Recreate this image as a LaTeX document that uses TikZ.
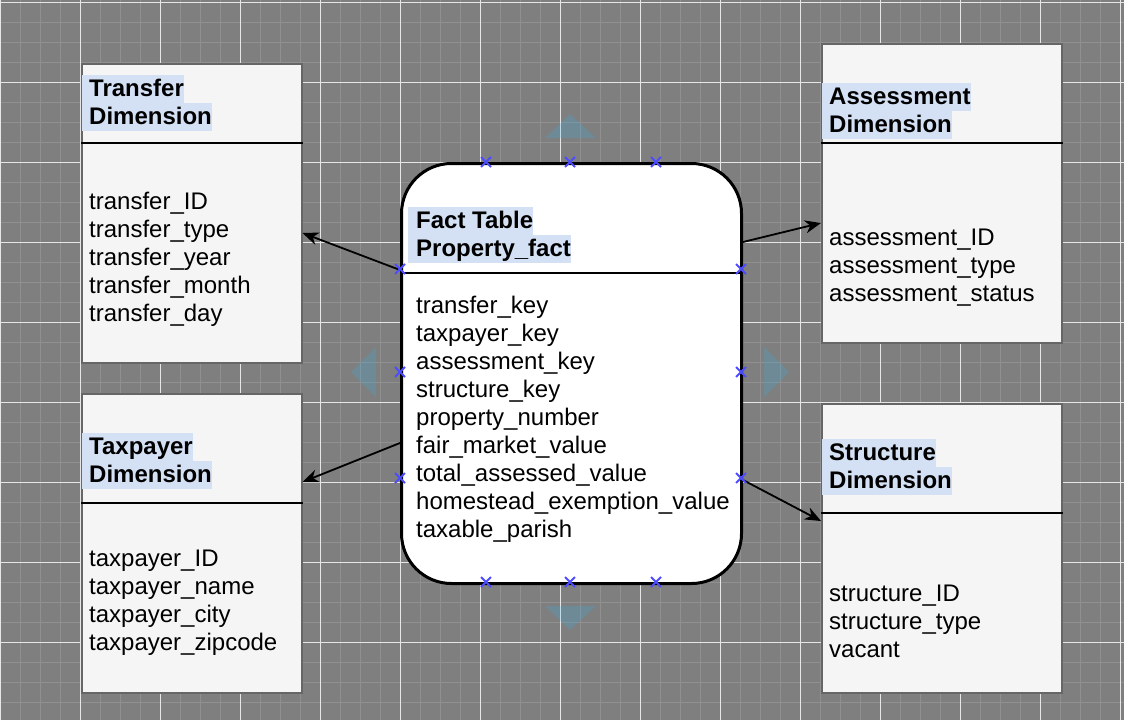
\documentclass[tikz,border=0pt]{standalone}
\usepackage{fontspec}
\setmainfont{Liberation Sans}
\usetikzlibrary{arrows.meta,calc}
\definecolor{bg}{HTML}{7F7F7F}
\definecolor{minorc}{HTML}{909090}
\definecolor{majorc}{HTML}{E6E6E6}
\definecolor{boxfill}{HTML}{F5F5F5}
\definecolor{boxline}{HTML}{666666}
\definecolor{hlc}{HTML}{D4E1F5}
\definecolor{handle}{HTML}{4D4DFF}
\definecolor{hint}{HTML}{29B6F2}
\begin{document}
\begin{tikzpicture}[x=1pt,y=-1pt,
  dimbox/.style={draw=boxline, line width=1.5pt, fill=boxfill, anchor=north west, inner sep=0pt, minimum width=220pt},
  sepline/.style={line width=2pt, black},
  hdr/.style={fill=hlc, inner sep=0pt, text height=21pt, text depth=7pt, anchor=base west, font=\fontsize{24}{28}\selectfont\bfseries},
  body/.style={inner sep=0pt, anchor=base west, font=\fontsize{24}{28}\selectfont},
  conn/.style={line width=1.8pt, -{Stealth[length=16pt,width=13pt,inset=5pt]}},
  handlemark/.style={handle, line width=2pt},
  hintarrow/.style={fill=hint, fill opacity=0.2, draw=none}]
\useasboundingbox (0,0) rectangle (1124,720);
% background grid
\fill[bg] (0,0) rectangle (1124,720);
\foreach \x in {0,20,...,1120} \draw[minorc, line width=1pt] (\x,0) -- (\x,720);
\foreach \y in {2,22,...,702} \draw[minorc, line width=1pt] (0,\y) -- (1124,\y);
\foreach \x in {0,80,...,1120} \draw[majorc, line width=1pt] (\x,0) -- (\x,720);
\foreach \y in {2,82,...,642} \draw[majorc, line width=1pt] (0,\y) -- (1124,\y);
% hover hint arrows
\fill[hintarrow] (545,138) -- (570,114) -- (596,138) -- cycle;
\fill[hintarrow] (545,606) -- (570,630) -- (596,606) -- cycle;
\fill[hintarrow] (376,347) -- (351,372) -- (376,397) -- cycle;
\fill[hintarrow] (764,347) -- (789,372) -- (764,397) -- cycle;
% dimension tables
\node[dimbox, minimum height=299pt] (transfer) at (81,63) {};
\draw[sepline] ($(transfer.north west)+(0,80)$) -- ($(transfer.north east)+(0,80)$);
\node[dimbox, minimum height=299pt] (taxpayer) at (81,393) {};
\draw[sepline] ($(taxpayer.north west)+(0,110)$) -- ($(taxpayer.north east)+(0,110)$);
\node[dimbox, minimum width=240pt, minimum height=299pt] (assessment) at (821,43) {};
\draw[sepline] ($(assessment.north west)+(0,100)$) -- ($(assessment.north east)+(0,100)$);
\node[dimbox, minimum width=240pt, minimum height=289pt] (structure) at (821,403) {};
\draw[sepline] ($(structure.north west)+(0,110)$) -- ($(structure.north east)+(0,110)$);
% fact table
\node[draw, line width=3pt, fill=white, rounded corners=50pt, minimum width=340pt, minimum height=420pt, anchor=north west, inner sep=0pt] (fact) at (400,162) {};
\draw[sepline] ($(fact.north west)+(0,111)$) -- ($(fact.north east)+(0,111)$);
% headers
\node[hdr] (transferH1) at (82,96) {\hspace{7pt}Transfer\hspace{2pt}};
\node[hdr] (transferH2) at (82,124) {\hspace{7pt}Dimension\hspace{2pt}};
\node[hdr] (taxpayerH1) at (82,454) {\hspace{7pt}Taxpayer\hspace{2pt}};
\node[hdr] (taxpayerH2) at (82,482) {\hspace{7pt}Dimension\hspace{2pt}};
\node[hdr] (assessmentH1) at (822,104) {\hspace{7pt}Assessment\hspace{2pt}};
\node[hdr] (assessmentH2) at (822,132) {\hspace{7pt}Dimension\hspace{2pt}};
\node[hdr] (structureH1) at (822,460) {\hspace{7pt}Structure\hspace{2pt}};
\node[hdr] (structureH2) at (822,488) {\hspace{7pt}Dimension\hspace{2pt}};
\node[hdr] (factH1) at (408,228) {\hspace{8pt}Fact Table\hspace{8pt}};
\node[hdr] (factH2) at (408,256) {\hspace{8pt}Property\_fact\hspace{1pt}};
% bodies
\foreach \t [count=\i from 0] in {transfer\_ID,transfer\_type,transfer\_year,transfer\_month,transfer\_day}
  \node[body] (transferB\i) at (89,209+28*\i) {\t};
\foreach \t [count=\i from 0] in {taxpayer\_ID,taxpayer\_name,taxpayer\_city,taxpayer\_zipcode}
  \node[body] (taxpayerB\i) at (89,566+28*\i) {\t};
\foreach \t [count=\i from 0] in {assessment\_ID,assessment\_type,assessment\_status}
  \node[body] (assessmentB\i) at (829,245+28*\i) {\t};
\foreach \t [count=\i from 0] in {structure\_ID,structure\_type,vacant}
  \node[body] (structureB\i) at (829,601+28*\i) {\t};
\foreach \t [count=\i from 0] in {transfer\_key,taxpayer\_key,assessment\_key,structure\_key,property\_number,fair\_market\_value,total\_assessed\_value,homestead\_exemption\_value,taxable\_parish}
  \node[body] (factB\i) at (416,313+28*\i) {\t};
% connectors
\coordinate (fL1) at ($(fact.north west)+(0,108)$);
\coordinate (fL2) at ($(fact.north west)+(0,281)$);
\coordinate (fR1) at ($(fact.north east)+(0,80)$);
\coordinate (fR2) at ($(fact.north east)+(0,318)$);
\coordinate (tIn) at ($(transfer.north east)+(0,170)$);
\coordinate (pIn) at ($(taxpayer.north east)+(0,89)$);
\coordinate (aIn) at ($(assessment.north west)+(0,180)$);
\coordinate (sIn) at ($(structure.north west)+(0,118)$);
\draw[conn] (fL1) -- (tIn);
\draw[conn] (fL2) -- (pIn);
\draw[conn] (fR1) -- (aIn);
\draw[conn] (fR2) -- (sIn);
% connection handles
\foreach \x/\y in {486/162,570/162,656/162,486/582,570/582,656/582,400/269,400/372,400/478,741/269,741/372,741/478}
  \draw[handlemark] (\x-5,\y-5) -- (\x+5,\y+5) (\x-5,\y+5) -- (\x+5,\y-5);
\end{tikzpicture}
\end{document}
